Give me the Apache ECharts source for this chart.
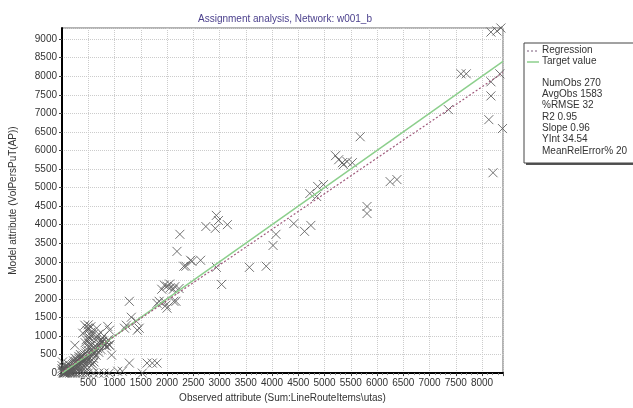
<!DOCTYPE html>
<html><head><meta charset="utf-8">
<script src="https://cdn.jsdelivr.net/npm/echarts@6/dist/echarts.min.js"></script>
<style>html,body{margin:0;padding:0;background:#fff}#c{width:633px;height:408px}</style>
</head><body><div id="c"></div>
<script>
// ---- data ----
var titleText = 'Assignment analysis, Network: w001_b';
var xName = 'Observed attribute (Sum:LineRouteItems\\utas)';
var yName = 'Model attribute (VolPersPuT(AP))';
var legendNames = ['Regression', 'Target value'];
var statLabels = ['NumObs 270', 'AvgObs 1583', '%RMSE 32', 'R2 0.95', 'Slope 0.96', 'YInt 34.54', 'MeanRelError% 20'];
var slope = 0.96, yInt = 34.54;
var lineX = [0, 8400];
var obsX = [
 8170,8360,8284,7600,7700,8170,8340,8170,8130,8390,7360,5680,8210,
 5210,5270,5340,5430,5530,5360,6250,6380,5810,5810,4720,4870,4980,4850,4620,4740,4415,4075,4020,3890,3570,
 2940,2980,2740,2920,3150,2245,2190,2450,2640,2320,2940,3040,2360,2475,
 2000,1950,2060,1900,2120,2230,2050,2150,1945,2170,1850,1980,2000,2130,1810,
 1283,1320,1415,1470,1225,1190,1435,870,905,435,490,660,395,245,945,1283,1620,1720,1810,1060,1150,1530,810,720,530,905,680,755,
 20,30,40,50,60,70,80,90,100,110,120,130,140,150,160,170,180,190,200,210,220,230,240,250,260,270,280,290,300,310,320,330,340,350,360,370,380,390,400,410,420,430,440,450,460,470,480,490,
 500,510,520,530,540,550,560,570,580,590,600,610,620,640,660,680,700,720,740,760,780,800,820,850,880,900,
 30,60,100,150,200,250,300,350,400,450,500,600,700,800,900,0,0,0,10,20,50,80,120,150,180,200,220,250,280,300,320,350,380,400,420,450,480,500,520,540,560,580,600,620,650,700,750,800,850,600,550,500,480,520,460,440,700,650,450,350,250,150,100,60,40,90,120,70,300,400,200
];
var modelY = [
 9190,9300,9220,8065,8065,7850,8065,7470,6830,6590,7100,6370,5400,
 5860,5750,5670,5700,5670,5620,5160,5215,4490,4300,4840,5030,5080,4760,3820,3980,4030,3740,3440,2880,2850,
 4250,4110,3950,3900,4000,3740,3280,3040,3040,2880,2850,2390,2880,3010,
 2340,2370,2300,2260,2260,2280,2400,2330,1935,1935,1935,1830,1750,1935,1880,
 1935,1505,1400,1210,1290,1210,1155,1260,1155,1290,1210,1210,1075,750,485,270,270,270,270,50,50,0,750,860,940,750,1000,860,
 10,40,20,60,30,90,50,110,70,130,100,60,150,120,180,90,200,160,230,140,260,190,280,220,310,170,330,250,350,280,380,240,400,300,420,330,450,360,480,390,350,500,420,540,460,580,390,620,
 700,800,880,950,1020,1100,760,650,560,480,400,300,560,620,700,660,740,780,640,820,860,800,760,840,900,760,
 0,0,0,0,0,0,0,0,0,0,0,0,0,0,0,50,120,200,300,80,150,180,240,60,30,100,330,400,120,200,450,500,250,300,180,250,330,450,380,300,200,250,520,680,480,560,900,1000,720,1050,1250,1300,1150,1200,900,820,1050,900,150,100,50,30,20,15,5,40,30,20,80,120,40
];
var xTicks = [500,1000,1500,2000,2500,3000,3500,4000,4500,5000,5500,6000,6500,7000,7500,8000];
var yTicks = [0,500,1000,1500,2000,2500,3000,3500,4000,4500,5000,5500,6000,6500,7000,7500,8000,8500,9000];

// ---- build ----
var pts = obsX.map(function(x,i){return [x, modelY[i]];});
var regPts = lineX.map(function(x){return [x, slope*x + yInt];});
var tgtPts = lineX.map(function(x){return [x, x];});
var FONT = 'Liberation Sans, Arial, sans-serif';
var chart = echarts.init(document.getElementById('c'), null, {renderer:'canvas'});
var LT = 43;
var statGraphics = statLabels.map(function(s,i){
  return {type:'text', left:542, top:LT+35 + i*11.3, z:12, style:{text:s, font:'10px '+FONT, fill:'#333'}};
});
chart.setOption({
  animation:false,
  backgroundColor:'#fff',
  title:{text:titleText, left:280, top:9, textAlign:'center',
    textStyle:{fontSize:10, fontWeight:'normal', color:'#4a3f8c', fontFamily:FONT}},
  grid:{left:57, right:130, top:28, bottom:33, show:true, borderColor:'#666', borderWidth:1},
  xAxis:{type:'value', min:0, max:8400, interval:500,
    name:xName, nameLocation:'middle', nameGap:17,
    nameTextStyle:{fontSize:10, color:'#333', fontFamily:FONT},
    axisLine:{show:true, onZero:false, lineStyle:{color:'#000', width:2}},
    axisTick:{show:true, length:3, lineStyle:{color:'#444'}},
    minorTick:{show:true, splitNumber:5, length:2, lineStyle:{color:'#888'}},
    axisLabel:{fontSize:10, color:'#333', fontFamily:FONT, margin:5, showMaxLabel:false,
      formatter:function(v){return xTicks.indexOf(v)>=0 ? String(v) : '';}},
    splitLine:{show:true, lineStyle:{color:'#cccccc', type:'dotted'}}},
  yAxis:{type:'value', min:0, max:9300, interval:500,
    name:yName, nameLocation:'middle', nameGap:44,
    nameTextStyle:{fontSize:10, color:'#333', fontFamily:FONT},
    axisLine:{show:true, onZero:false, lineStyle:{color:'#000', width:2}},
    axisTick:{show:true, length:3, lineStyle:{color:'#444'}},
    axisLabel:{fontSize:10, color:'#333', fontFamily:FONT, margin:5, showMaxLabel:false,
      formatter:function(v){return yTicks.indexOf(v)>=0 ? String(v) : '';}},
    splitLine:{show:true, lineStyle:{color:'#cccccc', type:'dotted'}}},
  series:[
    {type:'scatter', data:pts, symbol:'path://M0,0L10,10M10,0L0,10', symbolSize:9,
      itemStyle:{color:'rgba(0,0,0,0)', borderColor:'#5a5a5a', borderWidth:1, opacity:0.85}, z:2},
    {type:'line', name:legendNames[1], data:tgtPts, showSymbol:false, lineStyle:{color:'#8ccf8c', width:1.5}, z:3},
    {type:'line', name:legendNames[0], data:regPts, showSymbol:false, lineStyle:{color:'#a05a7c', width:1.2, type:[2,2]}, z:4}
  ],
  graphic:[
    {type:'rect', shape:{x:526,y:LT+2,width:120,height:120}, style:{fill:'#555'}, z:10},
    {type:'rect', shape:{x:524,y:LT,width:120,height:120}, style:{fill:'#fff', stroke:'#444', lineWidth:1}, z:11},
    {type:'line', shape:{x1:527,y1:LT+8,x2:539,y2:LT+8}, style:{stroke:'#7a5a7a', lineWidth:1, lineDash:[2,2]}, z:12},
    {type:'line', shape:{x1:527,y1:LT+19,x2:539,y2:LT+19}, style:{stroke:'#8ccf8c', lineWidth:1.5}, z:12},
    {type:'text', left:542, top:LT+2, z:12, style:{text:legendNames[0], font:'10px '+FONT, fill:'#333'}},
    {type:'text', left:542, top:LT+13, z:12, style:{text:legendNames[1], font:'10px '+FONT, fill:'#333'}}
  ].concat(statGraphics)
});
</script></body></html>
